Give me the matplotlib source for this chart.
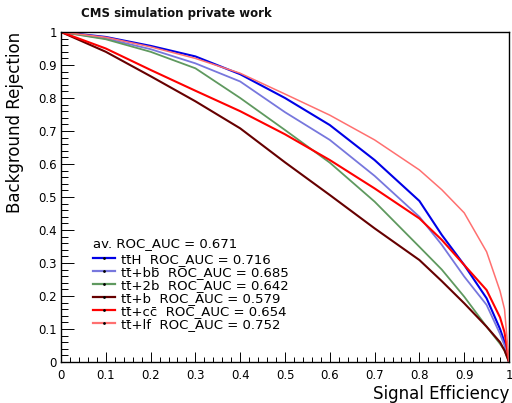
import matplotlib
matplotlib.use("Agg")
import matplotlib.pyplot as plt
from matplotlib.lines import Line2D
from matplotlib.ticker import MultipleLocator, FuncFormatter

plt.rcParams['font.family'] = ['DejaVu Sans']

# Signal efficiency grid
eff = [0, 0.1, 0.2, 0.3, 0.4, 0.5, 0.6, 0.7, 0.8, 0.85, 0.9, 0.95, 0.98, 0.99, 1.0]

# Background rejection per process
rej_ttH = [1, 0.985, 0.958, 0.926, 0.872, 0.80, 0.718, 0.612, 0.488, 0.385, 0.294, 0.193, 0.10, 0.06, 0]
rej_ttbb = [1, 0.98, 0.948, 0.905, 0.85, 0.757, 0.673, 0.564, 0.44, 0.355, 0.259, 0.173, 0.085, 0.05, 0]
rej_tt2b = [1, 0.978, 0.94, 0.89, 0.80, 0.703, 0.604, 0.486, 0.349, 0.28, 0.198, 0.107, 0.055, 0.035, 0]
rej_ttb = [1, 0.94, 0.866, 0.79, 0.708, 0.605, 0.506, 0.405, 0.309, 0.245, 0.178, 0.107, 0.06, 0.035, 0]
rej_ttcc = [1, 0.95, 0.885, 0.822, 0.76, 0.69, 0.612, 0.526, 0.435, 0.37, 0.294, 0.218, 0.135, 0.09, 0]
rej_ttlf = [1, 0.984, 0.955, 0.92, 0.875, 0.812, 0.748, 0.673, 0.582, 0.522, 0.452, 0.334, 0.215, 0.16, 0]

labels = ["tt\u0304H  ROC_AUC = 0.716",
          "tt\u0304+bb\u0304  ROC_AUC = 0.685",
          "tt\u0304+2b  ROC_AUC = 0.642",
          "tt\u0304+b  ROC_AUC = 0.579",
          "tt\u0304+cc\u0304  ROC_AUC = 0.654",
          "tt\u0304+lf  ROC_AUC = 0.752"]
header = "av. ROC_AUC = 0.671"
colors = ["#0000e6", "#7777dd", "#5f995f", "#660000", "#ff0000", "#ff7070"]
widths = [1.5, 1.3, 1.3, 1.5, 1.5, 1.1]
series = [rej_ttH, rej_ttbb, rej_tt2b, rej_ttb, rej_ttcc, rej_ttlf]

fig = plt.figure(figsize=(5.12, 4.03), dpi=100)
ax = fig.add_axes([61/512, 41/403, 448/512, 330/403])

for s, c, w in zip(series, colors, widths):
    ax.plot(eff, s, color=c, lw=w)

ax.set_xlim(0, 1)
ax.set_ylim(0, 1)
ax.xaxis.set_major_locator(MultipleLocator(0.1))
ax.xaxis.set_minor_locator(MultipleLocator(0.02))
ax.yaxis.set_major_locator(MultipleLocator(0.1))
ax.yaxis.set_minor_locator(MultipleLocator(0.02))
fmt = FuncFormatter(lambda v, p: "%g" % round(v, 2))
ax.xaxis.set_major_formatter(fmt)
ax.yaxis.set_major_formatter(fmt)
ax.tick_params(axis='x', which='major', direction='in', length=7, width=0.7, labelsize=8.5, pad=5)
ax.tick_params(axis='x', which='minor', direction='in', length=3.5, width=0.7)
ax.tick_params(axis='y', which='major', direction='in', length=9.5, width=0.7, labelsize=8.5, pad=3)
ax.tick_params(axis='y', which='minor', direction='in', length=4.7, width=0.7)
for sp in ax.spines.values():
    sp.set_linewidth(1.0)

ax.set_xlabel("Signal Efficiency", fontsize=12, loc='right', labelpad=2)
ax.set_ylabel("Background Rejection", fontsize=12, loc='top', labelpad=10)

fig.text(176/512, 1 - 13/403, "CMS simulation private work", fontsize=8.5,
         fontweight='bold', ha='center', va='center', color='#111111')

handles = [Line2D([0], [0], color=c, lw=1.6, marker='.', markersize=2,
                  markerfacecolor='black', markeredgecolor='black')
           for c in colors]
leg = ax.legend(handles, labels, title=header, loc='upper left',
                bbox_to_anchor=((93 - 61) / 448, (362 - 237) / 330),
                frameon=False, fontsize=9.5, title_fontsize=9.5,
                handlelength=1.65, handletextpad=0.45, labelspacing=0.0,
                borderpad=0, borderaxespad=0, alignment='left')
leg._legend_box.sep = 2

fig.savefig("out.png", dpi=100)
